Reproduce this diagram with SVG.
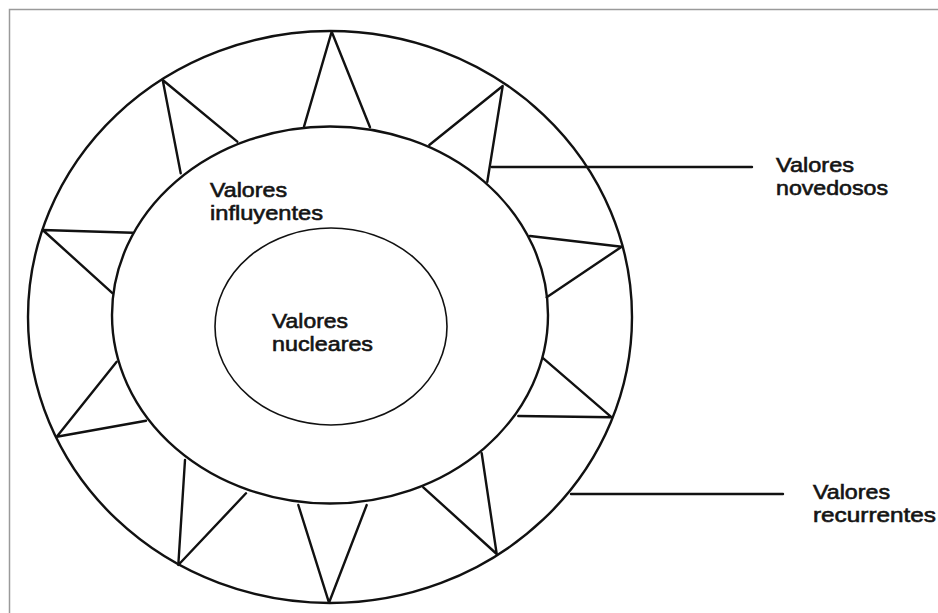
<svg xmlns="http://www.w3.org/2000/svg" width="938" height="613" viewBox="0 0 938 613">
  <style>
    .ln { fill: none; stroke: #111; stroke-width: 2.4; stroke-linejoin: round; stroke-linecap: round; }
    .thin { fill: none; stroke: #111; stroke-width: 1.6; }
    .lbl { font-family: "Liberation Sans", Arial, sans-serif; font-size: 20.5px; fill: #141414; stroke: #141414; stroke-width: 0.6; }
    .frame { fill: none; stroke: #9a9a9a; stroke-width: 1.5; }
  </style>
  <rect x="0" y="0" width="938" height="613" fill="#ffffff"/>
  <path class="frame" d="M9.5 613 V9.5 H938"/>

  <g id="recurrentes">
    <ellipse class="ln" cx="330" cy="317" rx="302" ry="286"/>
    <g id="triangulos">
      <polyline class="ln" points="304,126.7 331.7,31.7 370,127.3"/>
      <polyline class="ln" points="180.7,173.3 162.7,80 237.3,141.7"/>
      <polyline class="ln" points="429.3,145 502.7,86 487.3,181.7"/>
      <polyline class="ln" points="132.7,232.7 42.7,230 112.7,293.3"/>
      <polyline class="ln" points="530,236 621.7,246.7 546.7,297.3"/>
      <polyline class="ln" points="116.7,361.7 56.7,436.7 146,420.7"/>
      <polyline class="ln" points="543.3,358.3 611.7,417.3 518.3,416"/>
      <polyline class="ln" points="185,460 178.3,565 246,493.3"/>
      <polyline class="ln" points="298.3,505 329,602.7 366.7,505"/>
      <polyline class="ln" points="423.3,487.3 496.7,554 481.7,453.3"/>
    </g>
  </g>

  <g id="influyentes">
    <ellipse class="ln" cx="330" cy="315" rx="218" ry="188.5"/>
    <text class="lbl" x="210" y="196.5"><tspan x="210" y="196.5" textLength="77" lengthAdjust="spacingAndGlyphs">Valores</tspan><tspan x="210" y="219.5" textLength="113" lengthAdjust="spacingAndGlyphs">influyentes</tspan></text>
  </g>

  <g id="nucleares">
    <ellipse class="thin" cx="331" cy="326.5" rx="116" ry="98.5"/>
    <text class="lbl" x="272" y="327.5"><tspan x="272" y="327.5" textLength="76" lengthAdjust="spacingAndGlyphs">Valores</tspan><tspan x="272" y="350.5" textLength="101" lengthAdjust="spacingAndGlyphs">nucleares</tspan></text>
  </g>

  <g id="novedosos">
    <text class="lbl" x="776" y="171.5"><tspan x="776" y="171.5" textLength="78" lengthAdjust="spacingAndGlyphs">Valores</tspan><tspan x="776" y="194.5" textLength="112" lengthAdjust="spacingAndGlyphs">novedosos</tspan></text>
  </g>

  <g id="recurrentes-label">
    <text class="lbl" x="813" y="499"><tspan x="813" y="499" textLength="77" lengthAdjust="spacingAndGlyphs">Valores</tspan><tspan x="813" y="522" textLength="123" lengthAdjust="spacingAndGlyphs">recurrentes</tspan></text>
  </g>

  <g id="connectors">
    <line class="ln" x1="491.7" y1="167" x2="752" y2="167"/>
    <line class="ln" x1="571" y1="494" x2="783" y2="494"/>
  </g>
</svg>
